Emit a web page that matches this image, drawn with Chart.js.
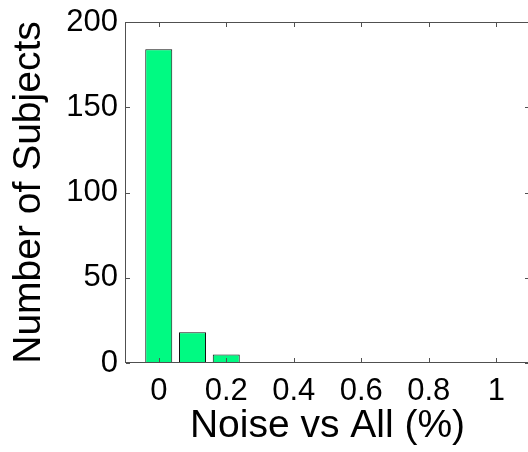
<!DOCTYPE html>
<html>
<head>
<meta charset="utf-8">
<script src="https://cdn.jsdelivr.net/npm/chart.js@4.4.0/dist/chart.umd.min.js"></script>
<style>
  html, body { margin: 0; padding: 0; background: #fff; overflow: hidden; width: 528px; height: 452px; }
  #wrap { position: absolute; left: 0; top: 0; width: 540px; height: 452px; }
  #histChart { display: block; width: 540px; height: 452px; }
</style>
</head>
<body>
<div id="wrap"><canvas id="histChart" width="540" height="452"></canvas></div>
<script>
// histogram bins (centres) and counts
const binCenters = [0, 0.1, 0.2, 0.3, 0.4, 0.5, 0.6, 0.7, 0.8, 0.9, 1.0];
const subjectCounts = [184, 18, 5, 0, 0, 0, 0, 0, 0, 0, 0];
const xTicks = [0, 0.2, 0.4, 0.6, 0.8, 1];
const yTicks = [0, 50, 100, 150, 200];

const FONT = "'Liberation Sans', Arial, Helvetica, sans-serif";

// matlab style box, ticks pointing inwards (right side falls just off the page)
const matlabBox = {
    id: 'matlabBox',
    afterDatasetsDraw(chart) {
        const { ctx, chartArea: a, scales: { x, y } } = chart;
        const len = 4;
        const l = Math.round(a.left), t = Math.round(a.top);
        const b = Math.round(a.bottom) - 1, r = Math.round(a.right) - 1;
        ctx.save();
        ctx.fillStyle = '#505050';
        ctx.fillRect(l, t, r - l, 1);      // top
        ctx.fillRect(l, b, r - l, 1);      // bottom
        ctx.fillRect(l, t, 1, b - t + 1);  // left
        xTicks.forEach(v => {
            const px = Math.round(x.getPixelForValue(v));
            ctx.fillRect(px, b - len, 1, len);
            ctx.fillRect(px, t + 1, 1, len);
        });
        yTicks.forEach(v => {
            const py = Math.round(y.getPixelForValue(v));
            ctx.fillRect(l + 1, py, len, 1);
            ctx.fillRect(r - len, py, len, 1);
        });
        ctx.restore();
    }
};

const canvas = document.getElementById('histChart');
new Chart(canvas.getContext('2d'), {
    type: 'bar',
    data: {
        datasets: [{
            data: binCenters.map((c, i) => ({ x: c, y: subjectCounts[i] })),
            backgroundColor: '#00fa82',
            borderColor: '#111',
            borderWidth: 1,
            barPercentage: 0.8,
            categoryPercentage: 1.0
        }]
    },
    options: {
        responsive: true,
        maintainAspectRatio: false,
        animation: false,
        layout: { padding: { top: 22, right: 10, bottom: 0, left: 0 } },
        plugins: { legend: { display: false }, tooltip: { enabled: false } },
        scales: {
            x: {
                type: 'linear',
                min: -0.1,
                max: 1.1,
                offset: false,
                grid: { display: false, drawTicks: false },
                border: { display: false },
                afterBuildTicks: s => { s.ticks = xTicks.map(v => ({ value: v })); },
                afterFit: s => { s.height = 89; },
                ticks: {
                    color: '#000',
                    padding: 10,
                    maxRotation: 0,
                    font: { family: FONT, size: 31 },
                    callback: v => String(v)
                },
                title: {
                    display: true,
                    text: 'Noise vs All (%)',
                    color: '#000',
                    font: { family: FONT, size: 39, lineHeight: 1.2 },
                    padding: { top: 0, bottom: 2 }
                }
            },
            y: {
                min: 0,
                max: 200,
                grid: { display: false, drawTicks: false },
                border: { display: false },
                afterBuildTicks: s => { s.ticks = yTicks.map(v => ({ value: v })); },
                afterFit: s => { s.width = 125; },
                ticks: {
                    color: '#000',
                    padding: 7,
                    font: { family: FONT, size: 31, lineHeight: 0.8 }
                },
                title: {
                    display: true,
                    text: 'Number of Subjects',
                    color: '#000',
                    font: { family: FONT, size: 39, lineHeight: 1.2 },
                    padding: { top: 6, bottom: 0 }
                }
            }
        }
    },
    plugins: [matlabBox]
});
</script>
</body>
</html>
